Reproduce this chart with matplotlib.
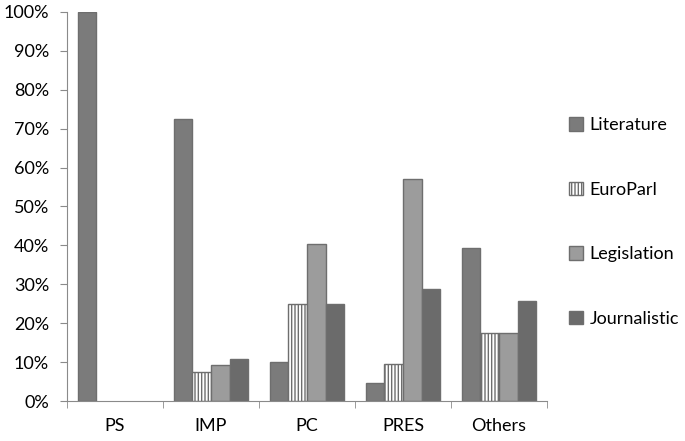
import matplotlib
matplotlib.use("Agg")
import matplotlib.pyplot as plt
import numpy as np
from matplotlib.ticker import PercentFormatter

categories = ["PS", "IMP", "PC", "PRES", "Others"]
series_names = ["Literature", "EuroParl", "Legislation", "Journalistic"]
literature = [100, 72.5, 10.1, 4.7, 39.3]
europarl = [0, 7.5, 24.9, 9.5, 17.6]
legislation = [0, 9.3, 40.4, 57.0, 17.6]
journalistic = [0, 10.7, 24.9, 28.7, 25.6]

values = [literature, europarl, legislation, journalistic]
faces = ["#7b7b7b", "white", "#9c9c9c", "#6b6b6b"]
hatches = [None, "|||||", None, None]

plt.rcParams["font.family"] = ["Lato", "DejaVu Sans"]
plt.rcParams["hatch.color"] = "#8a8a8a"
plt.rcParams["hatch.linewidth"] = 1.0

fig = plt.figure(figsize=(6.85, 4.41), dpi=100)
ax = fig.add_axes([67 / 685, 40 / 441, 480 / 685, 389 / 441])

x = np.arange(len(categories))
w = 0.195
for i, (vals, fc, h) in enumerate(zip(values, faces, hatches)):
    # zero-height bars are not drawn in the original
    heights = [v if v > 0 else np.nan for v in vals]
    ax.bar(x + (i - 1.5) * w, heights, w, color=fc, edgecolor="#6e6e6e",
           linewidth=1.0, hatch=h, label=series_names[i], zorder=2)

ax.set_xlim(-0.5, len(categories) - 0.5)
ax.set_ylim(0, 100)
ax.set_yticks(np.arange(0, 101, 10))
ax.yaxis.set_major_formatter(PercentFormatter(decimals=0))
ax.set_xticks(x)
ax.set_xticklabels(categories)
ax.set_xticks(np.arange(-0.5, len(categories), 1), minor=True)
ax.tick_params(axis="x", which="major", length=0, pad=12, labelsize=13)
ax.tick_params(axis="x", which="minor", length=5, color="#8a8a8a", direction="out")
ax.tick_params(axis="y", length=5, color="#8a8a8a", labelsize=13, pad=8)

for s in ["top", "right"]:
    ax.spines[s].set_visible(False)
for s in ["left", "bottom"]:
    ax.spines[s].set_color("#8a8a8a")

ax.legend(loc="center left", bbox_to_anchor=(1.012, 0.46), frameon=False,
          fontsize=13, handlelength=0.78, handleheight=0.78, handletextpad=0.35,
          labelspacing=2.68)

fig.savefig("out.png", dpi=100)
